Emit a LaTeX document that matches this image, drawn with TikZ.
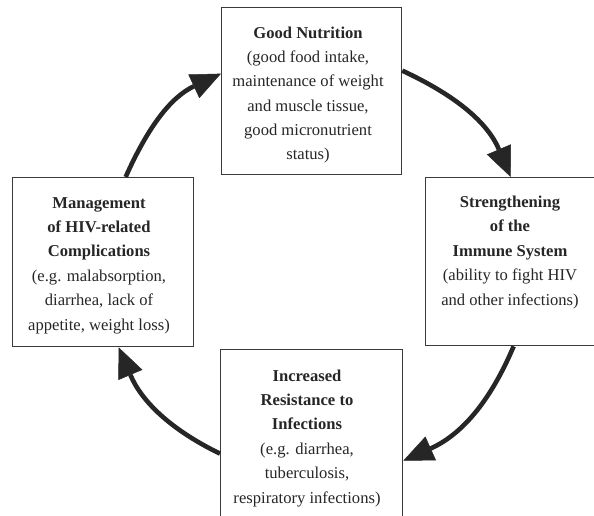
\documentclass[tikz,border=0pt]{standalone}
\usepackage{fontspec}
\setmainfont{Liberation Serif}
\usetikzlibrary{arrows.meta}
\definecolor{ink}{HTML}{262626}
\definecolor{edge}{HTML}{3A3A3A}
\tikzset{
  box/.style={draw=edge, line width=1.3pt, inner sep=0pt, anchor=north west, fill=none},
  txt/.style={align=center, anchor=base, text=ink, inner sep=0pt,
    font=\fontsize{16.6}{24.4}\selectfont},
  arr/.style={draw=ink, line width=4.6pt,
    -{Triangle[length=30pt,width=26pt,line width=0.5pt]}},
}
\begin{document}
\begin{tikzpicture}[x=1pt,y=1pt]
\useasboundingbox (0,0) rectangle (594,515);
% boxes
\node[box, minimum width=180pt, minimum height=167pt] (T) at (221,508) {};
\node[box, minimum width=170pt, minimum height=168pt] (R) at (425,338) {};
\node[box, minimum width=182pt, minimum height=172pt] (B) at (220,166) {};
\node[box, minimum width=181pt, minimum height=169pt] (L) at (12,338) {};
% texts (anchored at the baseline of their last line)
\node[txt] (Tt) at (308,355) {\textbf{Good Nutrition}\\(good food intake,\\maintenance of weight\\and muscle tissue,\\good micronutrient\\status)};
\node[txt] (Rt) at (510,210) {\textbf{Strengthening}\\\textbf{of the}\\\textbf{Immune System}\\(ability to fight HIV\\and other infections)};
\node[txt] (Bt) at (307,12) {\textbf{Increased}\\\textbf{Resistance to}\\\textbf{Infections}\\(e.g. diarrhea,\\tuberculosis,\\respiratory infections)};
\node[txt] (Lt) at (99,185) {\textbf{Management}\\\textbf{of HIV-related}\\\textbf{Complications}\\(e.g. malabsorption,\\diarrhea, lack of\\appetite, weight loss)};
% connectors
\draw[arr] ([xshift=22.5pt]L.north) to[out=66,in=205] ([yshift=17.5pt]T.west);
\draw[arr] ([yshift=20.5pt]T.east) to[out=-25,in=113] (R.north);
\draw[arr] ([xshift=3pt]R.south) to[out=247,in=24] ([yshift=-25pt]B.east);
\draw[arr] ([yshift=-18pt]B.west) to[out=154,in=-67] ([xshift=15.5pt]L.south);
\end{tikzpicture}
\end{document}
